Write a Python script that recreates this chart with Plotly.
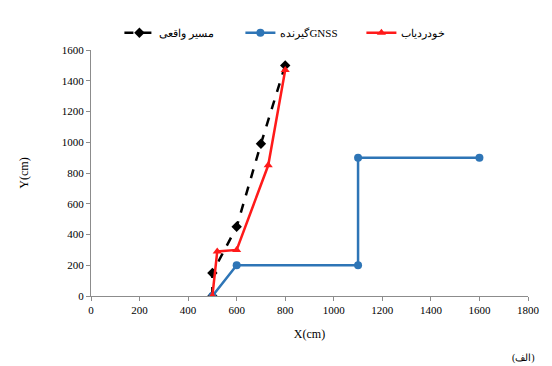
import plotly.graph_objects as go

real_x = [500, 500, 600, 700, 800]
real_y = [0, 150, 450, 990, 1500]
gnss_x = [500, 600, 1100, 1100, 1600]
gnss_y = [0, 200, 200, 900, 900]
track_x = [500, 520, 600, 730, 800]
track_y = [0, 290, 300, 850, 1470]

names = ["مسیر واقعی", "گیرندهGNSS", "خودردیاب"]

FONT = "Times New Roman, Liberation Serif, serif"

fig = go.Figure()
fig.add_trace(go.Scatter(x=real_x, y=real_y, mode="lines+markers", name=names[0],
                         line=dict(color="black", width=2.5, dash="dash"),
                         marker=dict(symbol="diamond", size=8, color="black")))
fig.add_trace(go.Scatter(x=gnss_x, y=gnss_y, mode="lines+markers", name=names[1],
                         line=dict(color="#2E75B6", width=2.5),
                         marker=dict(symbol="circle", size=8, color="#2E75B6")))
fig.add_trace(go.Scatter(x=track_x, y=track_y, mode="lines+markers", name=names[2],
                         line=dict(color="#FF1A1A", width=2.5),
                         marker=dict(symbol="triangle-up", size=8, color="#FF1A1A")))

fig.update_layout(
    width=552, height=366,
    margin=dict(l=91, r=12, t=50, b=70),
    paper_bgcolor="white", plot_bgcolor="white",
    font=dict(family=FONT, size=11, color="black"),
    showlegend=True,
    legend=dict(orientation="h", x=0.065, xanchor="left", y=1.07, yanchor="middle",
                font=dict(size=11), entrywidth=76, entrywidthmode="pixels",
                bgcolor="rgba(0,0,0,0)"),
    xaxis=dict(range=[0, 1800], dtick=200, showgrid=False, zeroline=False,
               showline=True, linecolor="#8c8c8c", linewidth=1,
               ticks="outside", ticklen=4, tickcolor="#8c8c8c",
               title=dict(text="X(cm)", font=dict(size=12), standoff=14)),
    yaxis=dict(range=[0, 1600], dtick=200, showgrid=False, zeroline=False,
               showline=True, linecolor="#8c8c8c", linewidth=1,
               ticks="outside", ticklen=4, tickcolor="#8c8c8c",
               title=dict(text="Y(cm)", font=dict(size=12), standoff=30)),
    annotations=[dict(text="(الف)", xref="paper", yref="paper", x=1.02, y=-0.25,
                      xanchor="right", yanchor="middle", showarrow=False,
                      font=dict(size=10))],
)

fig.write_html("out.html")
